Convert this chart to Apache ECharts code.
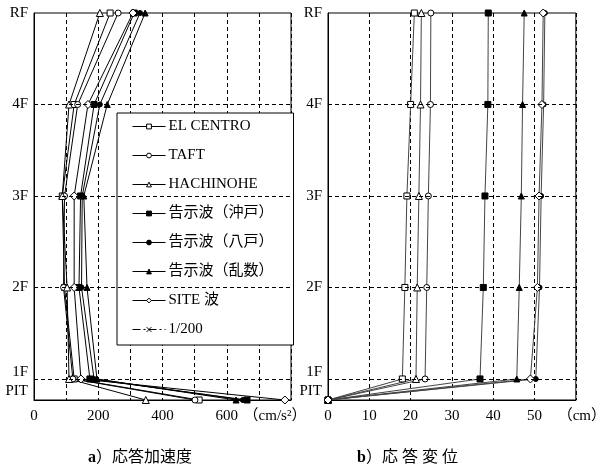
<!DOCTYPE html>
<html>
<head>
<meta charset="utf-8">
<script src="https://cdn.jsdelivr.net/npm/echarts@6/dist/echarts.min.js"></script>
<style>
html, body { margin: 0; background: #fff; }
#chart { width: 609px; height: 470px; }
</style>
</head>
<body>
<div id="chart"></div>
<script>
// floors, bottom to top (PIT sits a little below 1F)
var floorNames = ['PIT', '1F', '2F', '3F', '4F', 'RF'];
var floorLevels = [-0.23, 0, 1, 2, 3, 4];

var waveNames = ['EL CENTRO', 'TAFT', 'HACHINOHE', '告示波（沖戸）', '告示波（八戸）', '告示波（乱数）', 'SITE 波', '1/200'];

// a) 応答加速度 (cm/s2), PIT..RF
var accElCentro = [514, 125, 95, 88, 125, 237];
var accTaft     = [501, 121, 92, 95, 136, 262];
var accHachi    = [348, 109, 103, 88, 109, 205];
var accKobe     = [663, 174, 140, 145, 187, 312];
var accHachiK   = [650, 187, 148, 150, 205, 330];
var accRandom   = [629, 196, 165, 155, 228, 346];
var accSite     = [781, 146, 125, 125, 168, 308];
var accDrift    = [];

// b) 応答変位 (cm), PIT..RF
var dispElCentro = [0, 18.0, 18.6, 19.1, 20.0, 20.9];
var dispTaft     = [0, 23.5, 23.9, 24.3, 24.8, 24.9];
var dispHachi    = [0, 21.3, 21.6, 22.0, 22.4, 22.6];
var dispKobe     = [0, 36.8, 37.6, 38.0, 38.7, 38.8];
var dispHachiK   = [0, 50.3, 51.2, 51.6, 52.2, 52.5];
var dispRandom   = [0, 45.7, 46.3, 46.8, 47.1, 47.5];
var dispSite     = [0, 49.0, 50.7, 51.1, 51.8, 52.1];
var dispDrift    = [];

var accTicks = [0, 200, 400, 600];
var dispTicks = [0, 10, 20, 30, 40, 50];

var fontLatin = "'Liberation Serif', 'Noto Sans CJK JP', serif";

var symbols = ['rect', 'circle', 'triangle', 'rect', 'circle', 'triangle', 'diamond', 'path://M0,0L10,10M10,0L0,10'];
var filled = [false, false, false, true, true, true, false, false];
var sizes = [6, 6, 7, 6, 5, 6, 8, 5];

var accAll = [accElCentro, accTaft, accHachi, accKobe, accHachiK, accRandom, accSite, accDrift];
var dispAll = [dispElCentro, dispTaft, dispHachi, dispKobe, dispHachiK, dispRandom, dispSite, dispDrift];

function pairs(vals) {
  return vals.map(function (v, i) { return [v, floorLevels[i]]; });
}

var gridLineMark = {
  silent: true,
  symbol: 'none',
  label: { show: false },
  lineStyle: { color: '#000', type: [4, 3], width: 1 },
  data: [{ yAxis: 0 }, { yAxis: 1 }, { yAxis: 2 }, { yAxis: 3 }]
};

var series = [];
[accAll, dispAll].forEach(function (set, g) {
  set.forEach(function (vals, i) {
    var s = {
      name: waveNames[i],
      type: 'line',
      xAxisIndex: g,
      yAxisIndex: g,
      data: pairs(vals),
      symbol: symbols[i],
      symbolSize: sizes[i],
      showAllSymbol: true,
      lineStyle: { color: g === 0 ? '#000' : '#444', width: 1, type: i === 7 ? [8, 3, 2, 3] : 'solid' },
      itemStyle: { color: filled[i] ? '#000' : (i === 7 ? 'none' : '#fff'), borderColor: '#000', borderWidth: 1 },
      z: 3,
      animation: false
    };
    if (i === 0) s.markLine = gridLineMark;
    series.push(s);
  });
});

function yAxisFor(g) {
  return {
    gridIndex: g,
    type: 'value',
    min: -0.23,
    max: 4,
    axisLine: { show: true, onZero: false, lineStyle: { color: '#000' } },
    axisTick: { show: false },
    splitLine: { show: false },
    axisLabel: {
      customValues: floorLevels,
      margin: 6,
      color: '#000',
      fontFamily: fontLatin,
      fontSize: 15,
      formatter: function (v) {
        var i = floorLevels.indexOf(v);
        if (i === 0) return '{pit|PIT}';
        if (i === 1) return '{f1|1F}';
        return floorNames[i];
      },
      rich: {
        pit: { fontFamily: fontLatin, fontSize: 15, color: '#000', padding: [0, 0, 18, 0] },
        f1: { fontFamily: fontLatin, fontSize: 15, color: '#000', padding: [0, 0, 14, 0] }
      }
    }
  };
}

function xAxisFor(g, max, interval, ticks, unit, unitPad) {
  return {
    gridIndex: g, type: 'value', min: 0, max: max, interval: interval,
    axisLine: { onZero: false, lineStyle: { color: '#000' } },
    axisTick: { show: false },
    splitLine: { show: true, lineStyle: { color: '#000', type: [4, 3], width: 1 } },
    axisLabel: {
      color: '#000', fontFamily: fontLatin, fontSize: 15, margin: 9,
      showMaxLabel: true,
      formatter: function (v) {
        if (v === max) return '{u|' + unit + '}';
        return ticks.indexOf(v) >= 0 ? String(v) : '';
      },
      rich: { u: { fontFamily: fontLatin, fontSize: 15, color: '#000', padding: unitPad } }
    }
  };
}

var option = {
  backgroundColor: '#fff',
  animation: false,
  grid: [
    { left: 34, top: 13, width: 257, height: 387, show: true, borderColor: '#000', borderWidth: 1 },
    { left: 328, top: 13, width: 262, height: 387, show: true, borderColor: '#000', borderWidth: 1 }
  ],
  xAxis: [
    xAxisFor(0, 800, 100, accTicks, '（cm/s²）', [0, 32, 0, 0]),
    xAxisFor(1, 60, 10, dispTicks, '（cm）', [0, 0, 0, 12])
  ],
  yAxis: [yAxisFor(0), yAxisFor(1)],
  legend: {
    data: waveNames,
    orient: 'vertical',
    left: 117,
    top: 113,
    width: 166,
    padding: [6, 20, 8, 15],
    itemGap: 14,
    itemWidth: 33,
    itemHeight: 6,
    lineStyle: { width: 1 },
    itemStyle: { borderWidth: 1 },
    backgroundColor: '#fff',
    borderColor: '#000',
    borderWidth: 1,
    selectedMode: false,
    textStyle: { color: '#000', fontFamily: fontLatin, fontSize: 15, padding: [0, 0, 0, -2] }
  },
  title: [
    {
      text: '{b|a}）応答加速度',
      left: 83, top: 445,
      textStyle: {
        color: '#000', fontFamily: fontLatin, fontSize: 16, fontWeight: 'normal',
        rich: { b: { fontFamily: fontLatin, fontSize: 16, fontWeight: 'bold', color: '#000' } }
      }
    },
    {
      text: '{b|b}）応 答 変 位',
      left: 352, top: 445,
      textStyle: {
        color: '#000', fontFamily: fontLatin, fontSize: 16, fontWeight: 'normal',
        rich: { b: { fontFamily: fontLatin, fontSize: 16, fontWeight: 'bold', color: '#000' } }
      }
    }
  ],
  series: series
};

var chart = echarts.init(document.getElementById('chart'), null, { renderer: 'canvas' });
chart.setOption(option);
</script>
</body>
</html>
